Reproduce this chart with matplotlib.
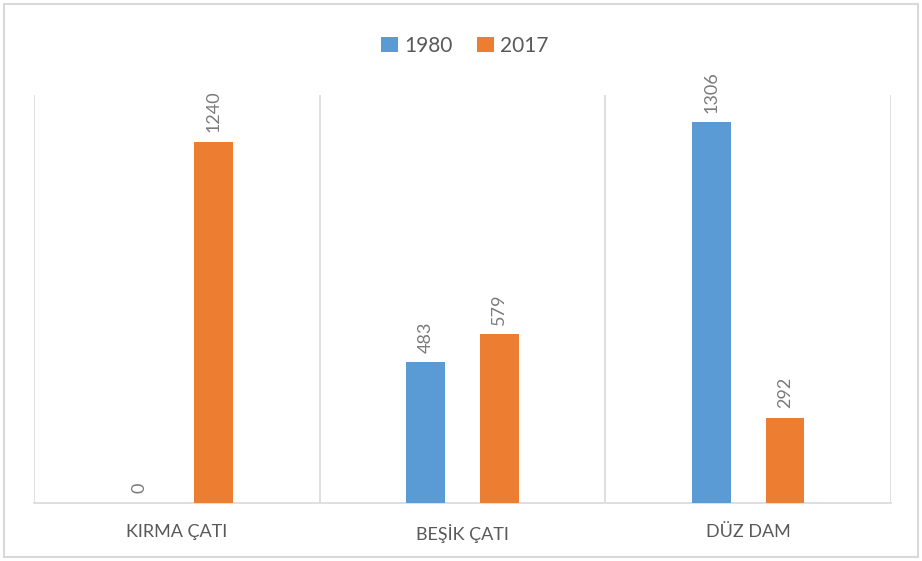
import numpy as np
import matplotlib.pyplot as plt
from matplotlib.patches import FancyBboxPatch

categories = ['KIRMA ÇATI', 'BEŞİK ÇATI', 'DÜZ DAM']
years = ['1980', '2017']
values_1980 = [0, 483, 1306]
values_2017 = [1240, 579, 292]
colors = ['#5B9BD5', '#ED7D31']

plt.rcParams['font.family'] = ['Lato', 'DejaVu Sans']
text_color = '#595959'
label_color = '#7A7A7A'
grid_color = '#D9D9D9'

fig = plt.figure(figsize=(9.22, 5.61), dpi=100)
ax = fig.add_axes([34 / 922, 1 - 503 / 561, (891 - 34) / 922, (503 - 95) / 561])

# outer chart border
fig.patches.append(FancyBboxPatch((4 / 922, 4 / 561), 914 / 922, 553 / 561,
                                  boxstyle='square,pad=0', transform=fig.transFigure,
                                  fill=False, edgecolor=grid_color, linewidth=1.5))

x = np.arange(len(categories))
width = 0.136
offset = 0.129

for i, (vals, lab) in enumerate(zip([values_1980, values_2017], years)):
    b = ax.bar(x + (i * 2 - 1) * offset, vals, width, color=colors[i], label=lab, zorder=3)
    for rect, v in zip(b, vals):
        ax.annotate(str(v), (rect.get_x() + rect.get_width() / 2, rect.get_height()),
                    xytext=(0, 7), textcoords='offset points', rotation=90,
                    ha='center', va='bottom', fontsize=13, color=label_color)

ax.set_xlim(-0.5, len(categories) - 0.5)
ax.set_ylim(0, 1400)
ax.set_yticks([])
ax.set_xticks(x)
ax.set_xticklabels(categories, fontsize=13, color=text_color)
ax.tick_params(axis='x', length=0, pad=15)

# category separators
for sep in np.arange(-0.5, len(categories), 1):
    ax.axvline(sep, color=grid_color, linewidth=1.2, zorder=1)

for s in ['top', 'left', 'right']:
    ax.spines[s].set_visible(False)
ax.spines['bottom'].set_color(grid_color)
ax.spines['bottom'].set_linewidth(1.2)

fig.legend(loc='upper center', bbox_to_anchor=(465 / 922, 1 - 17 / 561), ncol=2,
           frameon=False, fontsize=15, labelcolor=text_color, handlelength=0.8,
           handleheight=0.8, handletextpad=0.3, columnspacing=1.2)

fig.savefig('out.png', dpi=100)
